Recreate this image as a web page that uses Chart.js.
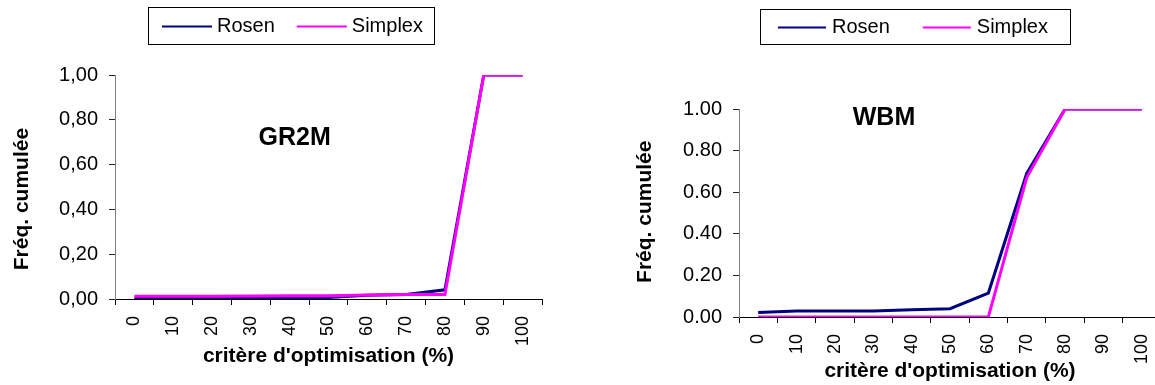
<!DOCTYPE html>
<html>
<head>
<meta charset="utf-8">
<title>Fréquences cumulées - GR2M / WBM</title>
<script src="https://cdn.jsdelivr.net/npm/chart.js@4.4.1/dist/chart.umd.min.js"></script>
<style>
  html, body { margin: 0; padding: 0; background: #fff; overflow: hidden; }
  #page { position: relative; width: 1155px; height: 385px; overflow: hidden; }
  .panel { position: absolute; top: 0; height: 385px; }
  canvas { display: block; }
</style>
</head>
<body>
<div id="page">
  <div class="panel" style="left:0;width:570px"><canvas id="gr2m" width="570" height="385"></canvas></div>
  <div class="panel" style="left:580px;width:600px"><canvas id="wbm" width="600" height="385"></canvas></div>
</div>
<script>
// catégories : critère d'optimisation (%)
const categories = ['0', '10', '20', '30', '40', '50', '60', '70', '80', '90', '100'];

// GR2M
const gr2mRosen   = [0.003, 0.003, 0.003, 0.003, 0.004, 0.007, 0.017, 0.020, 0.041, 1.00, 1.00];
const gr2mSimplex = [0.012, 0.012, 0.012, 0.013, 0.014, 0.015, 0.018, 0.020, 0.020, 1.00, 1.00];
const gr2mYTicks  = ['0,00', '0,20', '0,40', '0,60', '0,80', '1,00'];

// WBM
const wbmRosen   = [0.022, 0.029, 0.029, 0.029, 0.035, 0.040, 0.115, 0.690, 1.00, 1.00, 1.00];
const wbmSimplex = [0.000, 0.000, 0.000, 0.000, 0.000, 0.000, 0.000, 0.670, 1.00, 1.00, 1.00];
const wbmYTicks  = ['0.00', '0.20', '0.40', '0.60', '0.80', '1.00'];

const seriesNames = ['Rosen', 'Simplex'];
const seriesColors = ['#000080', '#FF00FF'];

const FONT = '"Liberation Sans", Arial, sans-serif';

// légende encadrée, façon Excel
const boxedLegend = {
  id: 'boxedLegend',
  afterDraw(chart, args, opts) {
    const ctx = chart.ctx;
    ctx.save();
    ctx.font = '20px ' + FONT;
    ctx.strokeStyle = '#000';
    ctx.lineWidth = 1;
    ctx.strokeRect(opts.left + 0.5, opts.top + 0.5, opts.width, opts.height);
    const cy = Math.round(opts.top + opts.height / 2) + 0.5;
    let x = opts.left + opts.pad;
    chart.data.datasets.forEach(ds => {
      ctx.strokeStyle = ds.borderColor;
      ctx.lineWidth = 2;
      ctx.beginPath();
      ctx.moveTo(x, cy);
      ctx.lineTo(x + opts.lineLen, cy);
      ctx.stroke();
      x += opts.lineLen + opts.gap;
      ctx.fillStyle = '#000';
      ctx.textAlign = 'left';
      ctx.textBaseline = 'middle';
      ctx.fillText(ds.label, x, cy);
      x += ctx.measureText(ds.label).width + opts.spacing;
    });
    ctx.restore();
  }
};

// nom du modèle dans la zone de tracé + titre de l'axe Y (décalé comme dans Excel)
const modelLabel = {
  id: 'modelLabel',
  afterDatasetsDraw(chart, args, opts) {
    const { ctx, scales } = chart;
    ctx.save();
    ctx.font = 'bold 25px ' + FONT;
    ctx.fillStyle = '#000';
    ctx.textAlign = 'center';
    ctx.textBaseline = 'middle';
    ctx.fillText(opts.text, scales.x.getPixelForValue(opts.x), scales.y.getPixelForValue(opts.y));

    // titre Y vertical
    ctx.font = 'bold 21px ' + FONT;
    ctx.translate(scales.y.left + opts.titleOffset, scales.y.getPixelForValue(opts.titleAt));
    ctx.rotate(-Math.PI / 2);
    ctx.fillText(opts.yTitle, 0, 0);
    ctx.restore();
  }
};

function makeChart(id, rosen, simplex, yTicks, cfg) {
  const values = [rosen, simplex];
  return new Chart(document.getElementById(id), {
    type: 'line',
    data: {
      labels: categories,
      datasets: seriesNames.map((name, i) => ({
        label: name,
        data: values[i],
        borderColor: seriesColors[i],
        backgroundColor: seriesColors[i],
        borderWidth: 3,
        pointRadius: 0,
        tension: 0,
        fill: false,
        order: i === 0 ? 1 : 0   // Simplex par-dessus Rosen
      }))
    },
    options: {
      responsive: false,
      animation: false,
      layout: { padding: cfg.padding },
      plugins: {
        legend: { display: false },
        tooltip: { enabled: false },
        boxedLegend: cfg.legend,
        modelLabel: cfg.label
      },
      scales: {
        x: {
          type: 'category',
          offset: true,
          afterFit: s => { s.height = cfg.xHeight; },
          grid: { display: true, offset: true, drawOnChartArea: false, drawTicks: true, tickLength: 6, color: '#000' },
          border: { display: true, color: '#000', width: 1 },
          ticks: {
            autoSkip: false,
            maxRotation: 90,
            minRotation: 90,
            padding: 11,
            color: '#000',
            font: { family: FONT, size: 18 }
          },
          title: {
            display: true,
            text: "critère d'optimisation (%)",
            color: '#000',
            padding: 0,
            font: { family: FONT, size: 21, weight: 'bold' }
          }
        },
        y: {
          min: 0,
          max: 1,
          afterFit: s => { s.width = cfg.yWidth; },
          grid: { display: true, drawOnChartArea: false, drawTicks: true, tickLength: 6, color: '#222' },
          border: { display: true, color: '#808080', width: 1 },
          ticks: {
            stepSize: 0.2,
            padding: 11,
            color: '#000',
            font: { family: FONT, size: 20 },
            callback: (v, i) => yTicks[i]
          },
          title: { display: false }
        }
      }
    },
    plugins: [boxedLegend, modelLabel]
  });
}

makeChart('gr2m', gr2mRosen, gr2mSimplex, gr2mYTicks, {
  padding: { left: 9, top: 75, right: 28, bottom: 16 },
  yWidth: 106,
  xHeight: 70,
  legend: { left: 148, top: 7, width: 286, height: 37, pad: 14, lineLen: 50, gap: 5, spacing: 22 },
  label: { text: 'GR2M', x: 4.13, y: 0.72, yTitle: 'Fréq. cumulée', titleOffset: 13, titleAt: 0.446 }
});

makeChart('wbm', wbmRosen, wbmSimplex, wbmYTicks, {
  padding: { left: 52, top: 109, right: 19, bottom: 1 },
  yWidth: 107,
  xHeight: 67,
  legend: { left: 180, top: 9, width: 310, height: 35, pad: 18, lineLen: 48, gap: 6, spacing: 33 },
  label: { text: 'WBM', x: 3.28, y: 0.958, yTitle: 'Fréq. cumulée', titleOffset: 13, titleAt: 0.506 }
});
</script>
</body>
</html>
